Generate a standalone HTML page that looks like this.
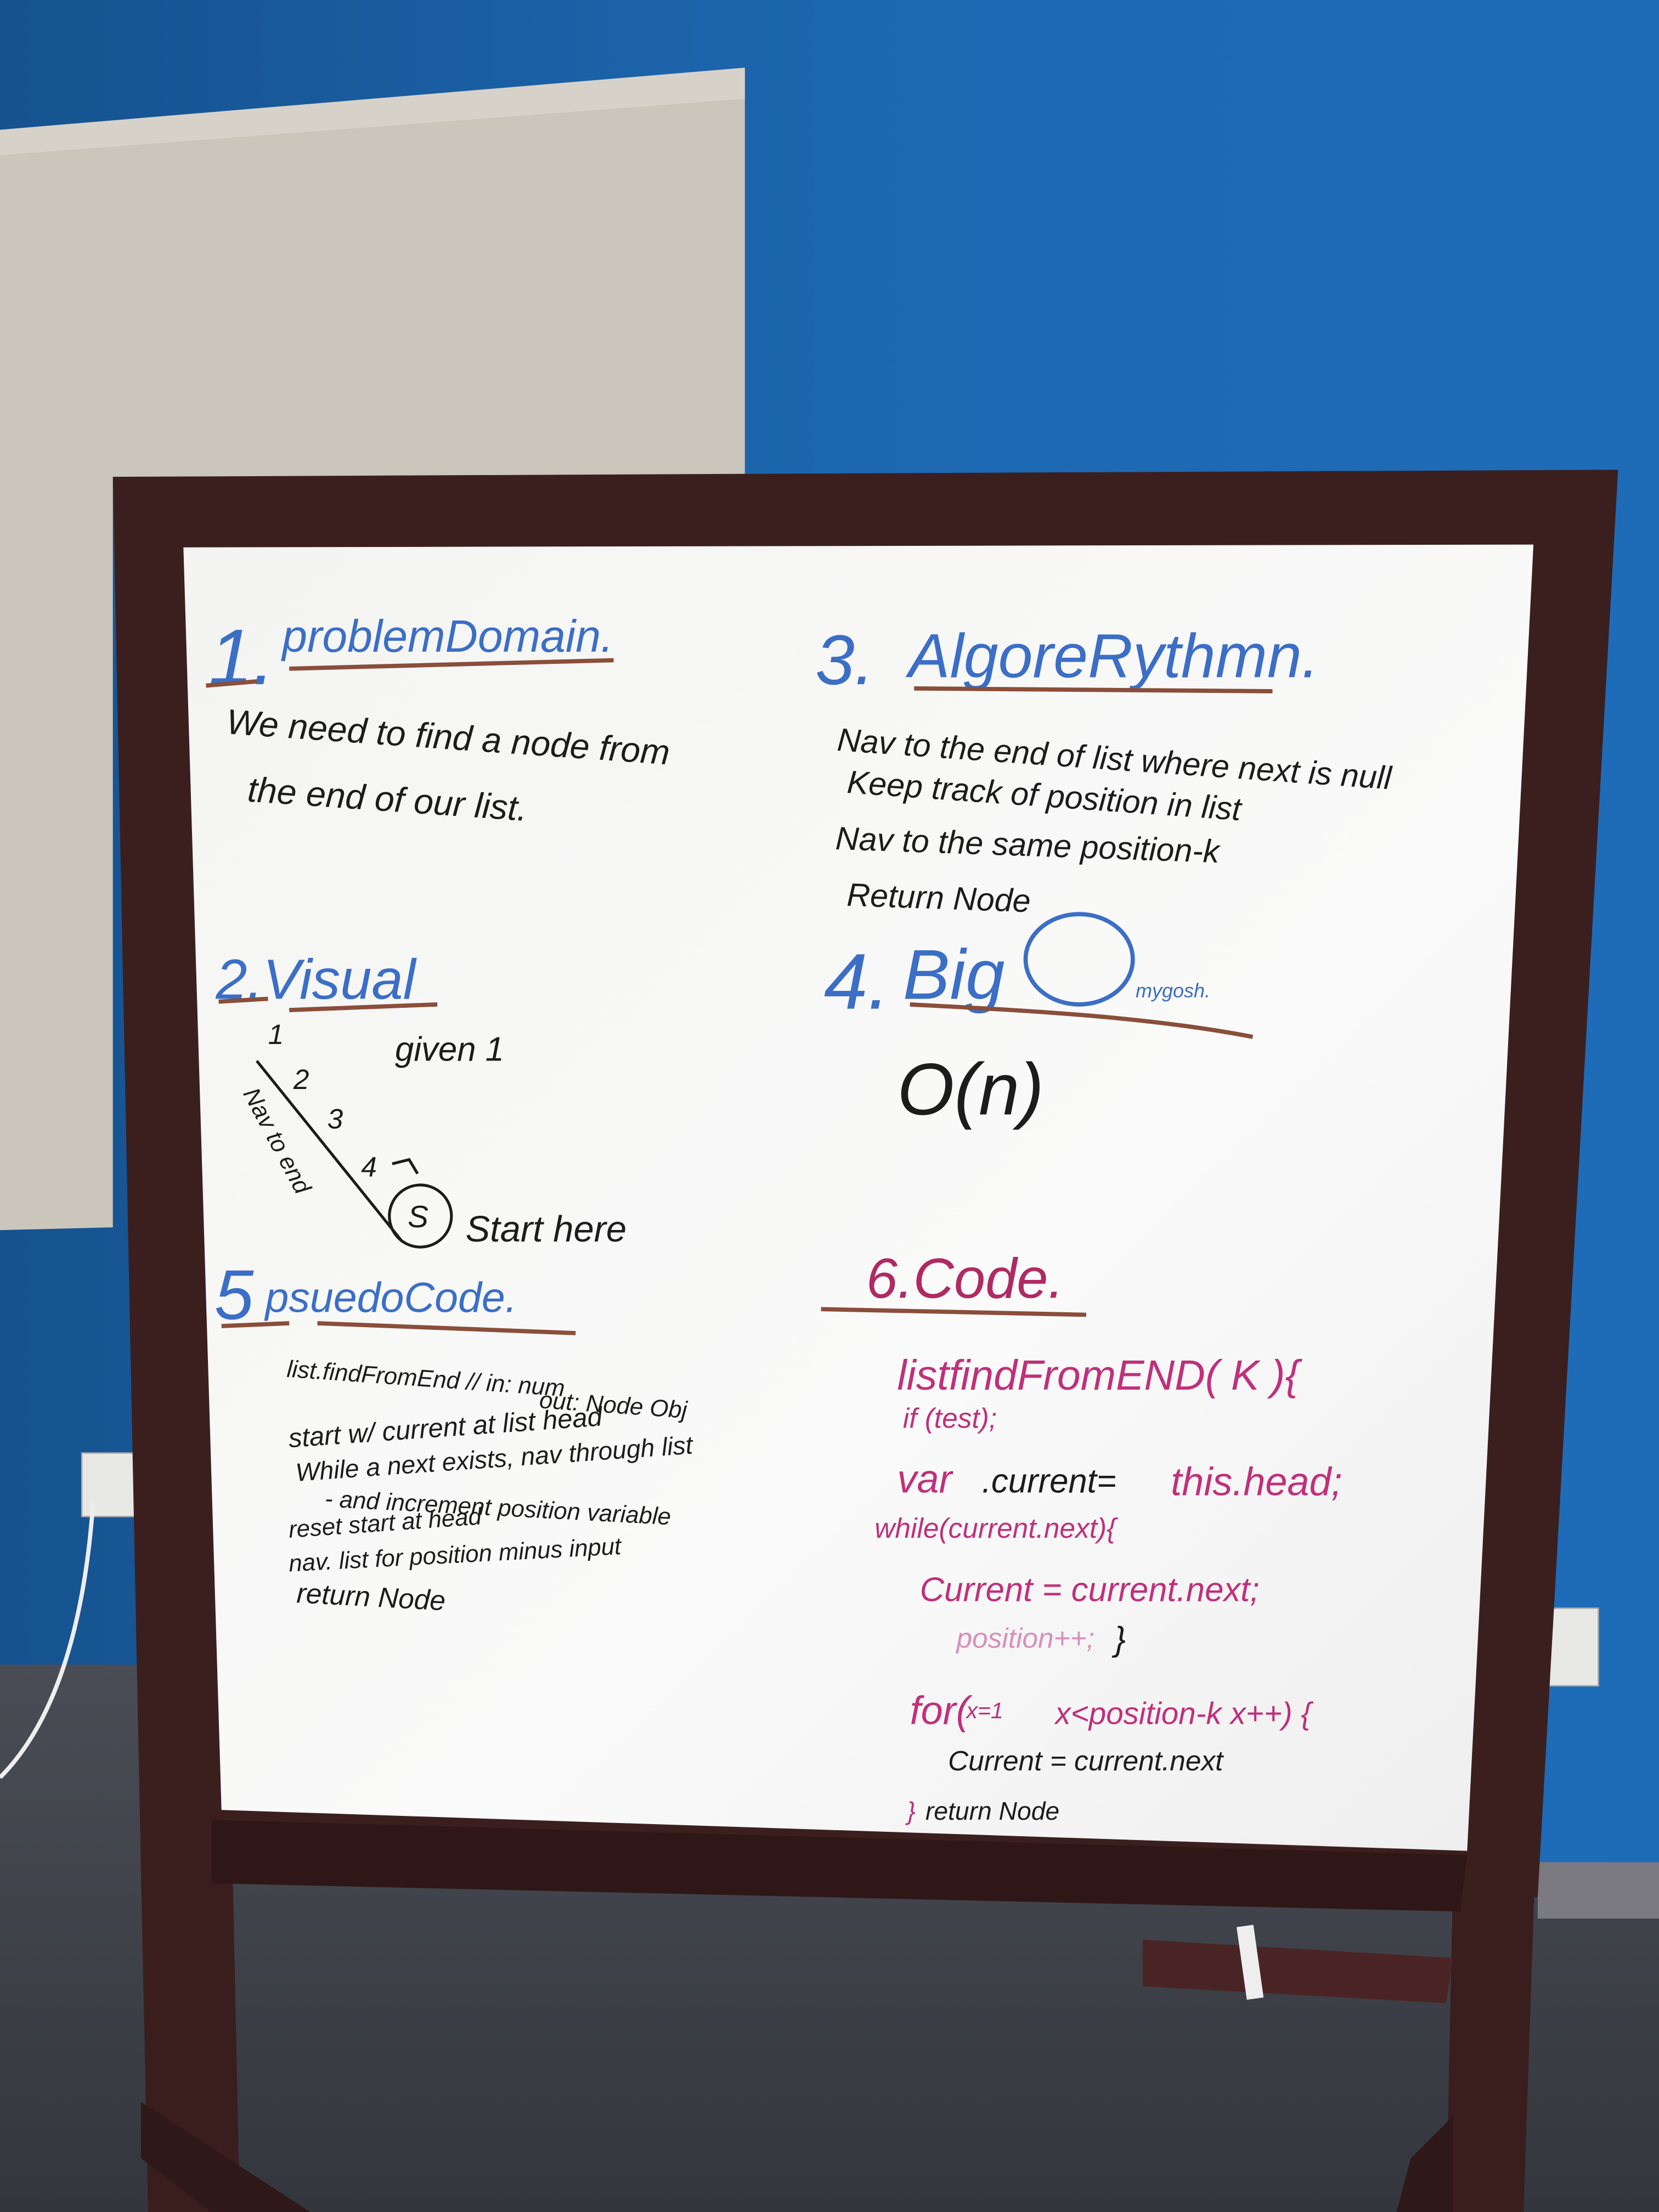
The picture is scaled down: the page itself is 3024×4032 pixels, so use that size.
<!DOCTYPE html>
<html><head><meta charset="utf-8"><style>
html,body{margin:0;padding:0;width:3024px;height:4032px;overflow:hidden;background:#1b63aa}
svg{display:block}
text{font-family:"Liberation Sans",sans-serif;font-style:italic}
</style></head><body>
<svg width="3024" height="4032" viewBox="0 0 1176 1568" xmlns="http://www.w3.org/2000/svg">
<defs>
<linearGradient id="wall" x1="0" y1="0" x2="1" y2="0"><stop offset="0" stop-color="#16528f"/><stop offset="0.5" stop-color="#1d67b0"/><stop offset="1" stop-color="#1e6cb8"/></linearGradient>
<linearGradient id="floor" x1="0" y1="0" x2="0" y2="1"><stop offset="0" stop-color="#4a4d55"/><stop offset="1" stop-color="#33363d"/></linearGradient>
<linearGradient id="board" x1="0" y1="0" x2="1" y2="1"><stop offset="0" stop-color="#f4f4f2"/><stop offset="0.6" stop-color="#fafafa"/><stop offset="1" stop-color="#eeeeee"/></linearGradient>
</defs>
<rect width="1176" height="1568" fill="url(#wall)"/>
<polygon points="0,92 528,48 528,336 80,340 80,870 0,872" fill="#cbc6bc"/>
<polygon points="0,92 528,48 528,70 0,110" fill="#d6d2c9"/>
<polygon points="0,1180 1090,1180 1090,1330 1176,1330 1176,1568 0,1568" fill="url(#floor)"/>
<rect x="1090" y="1320" width="86" height="40" fill="#7a7a80"/>
<rect x="58" y="1030" width="40" height="45" fill="#e8e8e4" stroke="#aaa"/>
<rect x="1095" y="1140" width="38" height="55" fill="#e8e8e4" stroke="#aaa"/>
<path d="M66,1065 C60,1150 40,1220 0,1260" stroke="#eee" stroke-width="3" fill="none"/>
<polygon points="100,1330 165,1330 170,1568 105,1568" fill="#3a1e1e"/>
<polygon points="1030,1330 1088,1330 1080,1568 1025,1568" fill="#3a1e1e"/>
<polygon points="100,1490 220,1568 150,1568 100,1530" fill="#2e1818"/>
<polygon points="1000,1530 1030,1500 1030,1568 990,1568" fill="#2e1818"/>
<polygon points="80,338 1147,333 1090,1345 100,1330" fill="#3b1f1f"/>
<polygon points="150,1290 1040,1315 1035,1355 150,1335" fill="#2f1717"/>
<polygon points="810,1375 1030,1388 1025,1420 810,1408" fill="#4a2424"/>
<rect x="880" y="1365" width="12" height="52" fill="#eee" transform="rotate(-8 886 1390)"/>
<polygon points="130,388 1087,386 1040,1312 157,1283" fill="url(#board)"/>

<g fill="#3b6ec6"><text x="148" y="485" font-size="56">1.</text><text x="200" y="462" font-size="32">problemDomain.</text></g>
<path d="M146,486 L182,483 M205,474 L435,468" stroke="#8a4e3a" stroke-width="3"/>
<g fill="#1c1c1c" font-size="25"><text x="160" y="520" transform="rotate(4 160 520)">We need to find a node from</text>
<text x="175" y="568" transform="rotate(4 175 568)">the end of our list.</text></g>
<g fill="#3b6ec6"><text x="578" y="485" font-size="50">3.</text><text x="644" y="480" font-size="44">AlgoreRythmn.</text></g>
<path d="M648,488 L902,490" stroke="#8a4e3a" stroke-width="3"/>
<g fill="#1c1c1c" font-size="23"><text x="593" y="532" transform="rotate(4 593 532)">Nav to the end of list where next is null</text>
<text x="600" y="562" transform="rotate(4 600 562)">Keep track of position in list</text>
<text x="592" y="602" transform="rotate(2 592 602)">Nav to the same position-k</text>
<text x="600" y="642" transform="rotate(2 600 642)">Return Node</text></g>
<text x="153" y="708" font-size="40" fill="#3b6ec6">2.Visual</text>
<path d="M155,710 L190,708 M205,716 L310,712" stroke="#8a4e3a" stroke-width="3"/>
<g fill="#1c1c1c" font-size="20"><text x="190" y="740">1</text><text x="208" y="772">2</text><text x="232" y="800">3</text><text x="256" y="834">4</text>
<text x="280" y="752" font-size="24">given 1</text>
<text x="330" y="880" font-size="26">Start here</text>
<text x="172" y="775" font-size="17" transform="rotate(62 172 775)">Nav to end</text></g>
<path d="M182,752 L285,880 M278,825 L290,822 L296,832" stroke="#1c1c1c" stroke-width="2" fill="none"/>
<circle cx="298" cy="862" r="22" fill="none" stroke="#1c1c1c" stroke-width="2"/>
<text x="289" y="870" font-size="22" fill="#1c1c1c">S</text>
<text x="584" y="715" font-size="56" fill="#3b6ec6">4.</text>
<text x="640" y="708" font-size="50" fill="#3b6ec6">Big</text>
<ellipse cx="765" cy="680" rx="38" ry="32" fill="none" stroke="#3b6ec6" stroke-width="3"/>
<text x="805" y="707" font-size="14" fill="#3b6ec6">mygosh.</text>
<path d="M645,712 C720,716 810,720 888,735" stroke="#8a4e3a" stroke-width="3" fill="none"/>
<text x="636" y="790" font-size="52" fill="#1c1c1c">O(n)</text>
<text x="152" y="935" font-size="50" fill="#3b6ec6">5</text>
<text x="188" y="930" font-size="30" fill="#3b6ec6">psuedoCode.</text>
<path d="M157,940 L205,938 M225,938 L408,945" stroke="#8a4e3a" stroke-width="3"/>
<g fill="#1c1c1c" font-size="17"><text x="203" y="976" transform="rotate(4 203 976)">list.findFromEnd // in: num</text>
<text x="382" y="998" transform="rotate(4 382 998)">out: Node Obj</text>
<text x="205" y="1026" font-size="19" transform="rotate(-4 205 1026)">start w/ current at list head</text>
<text x="210" y="1050" font-size="18" transform="rotate(-4 210 1050)">While a next exists, nav through list</text>
<text x="230" y="1068" transform="rotate(3 230 1068)">- and increment position variable</text>
<text x="205" y="1090" transform="rotate(-4 205 1090)">reset start at head</text>
<text x="205" y="1114" transform="rotate(-3 205 1114)">nav. list for position minus input</text>
<text x="210" y="1136" font-size="20" transform="rotate(3 210 1136)">return Node</text></g>
<text x="614" y="920" font-size="40" fill="#b02a62">6.Code.</text>
<path d="M582,928 L770,932" stroke="#8a4e3a" stroke-width="3"/>
<g fill="#c0307a"><text x="636" y="985" font-size="30">listfindFromEND(  K  ){</text>
<text x="640" y="1012" font-size="20">if (test);</text>
<text x="636" y="1058" font-size="28">var</text><text x="830" y="1060" font-size="28">this.head;</text>
<text x="620" y="1090" font-size="20">while(current.next){</text>
<text x="652" y="1135" font-size="24">Current = current.next;</text>
<text x="678" y="1168" font-size="20" fill="#d890b8">position++;</text>
<text x="645" y="1222" font-size="28">for(</text><text x="685" y="1218" font-size="16">x=1</text>
<text x="748" y="1222" font-size="22">x&lt;position-k x++) {</text></g>
<text x="696" y="1058" font-size="24" fill="#1c1c1c">.current=</text>
<text x="790" y="1170" font-size="24" fill="#1c1c1c">}</text>
<text x="672" y="1255" font-size="20" fill="#1c1c1c">Current = current.next</text>
<text x="643" y="1290" font-size="18" fill="#c0307a">}</text>
<text x="656" y="1290" font-size="18" fill="#1c1c1c">return Node</text>
</svg>
</body></html>
